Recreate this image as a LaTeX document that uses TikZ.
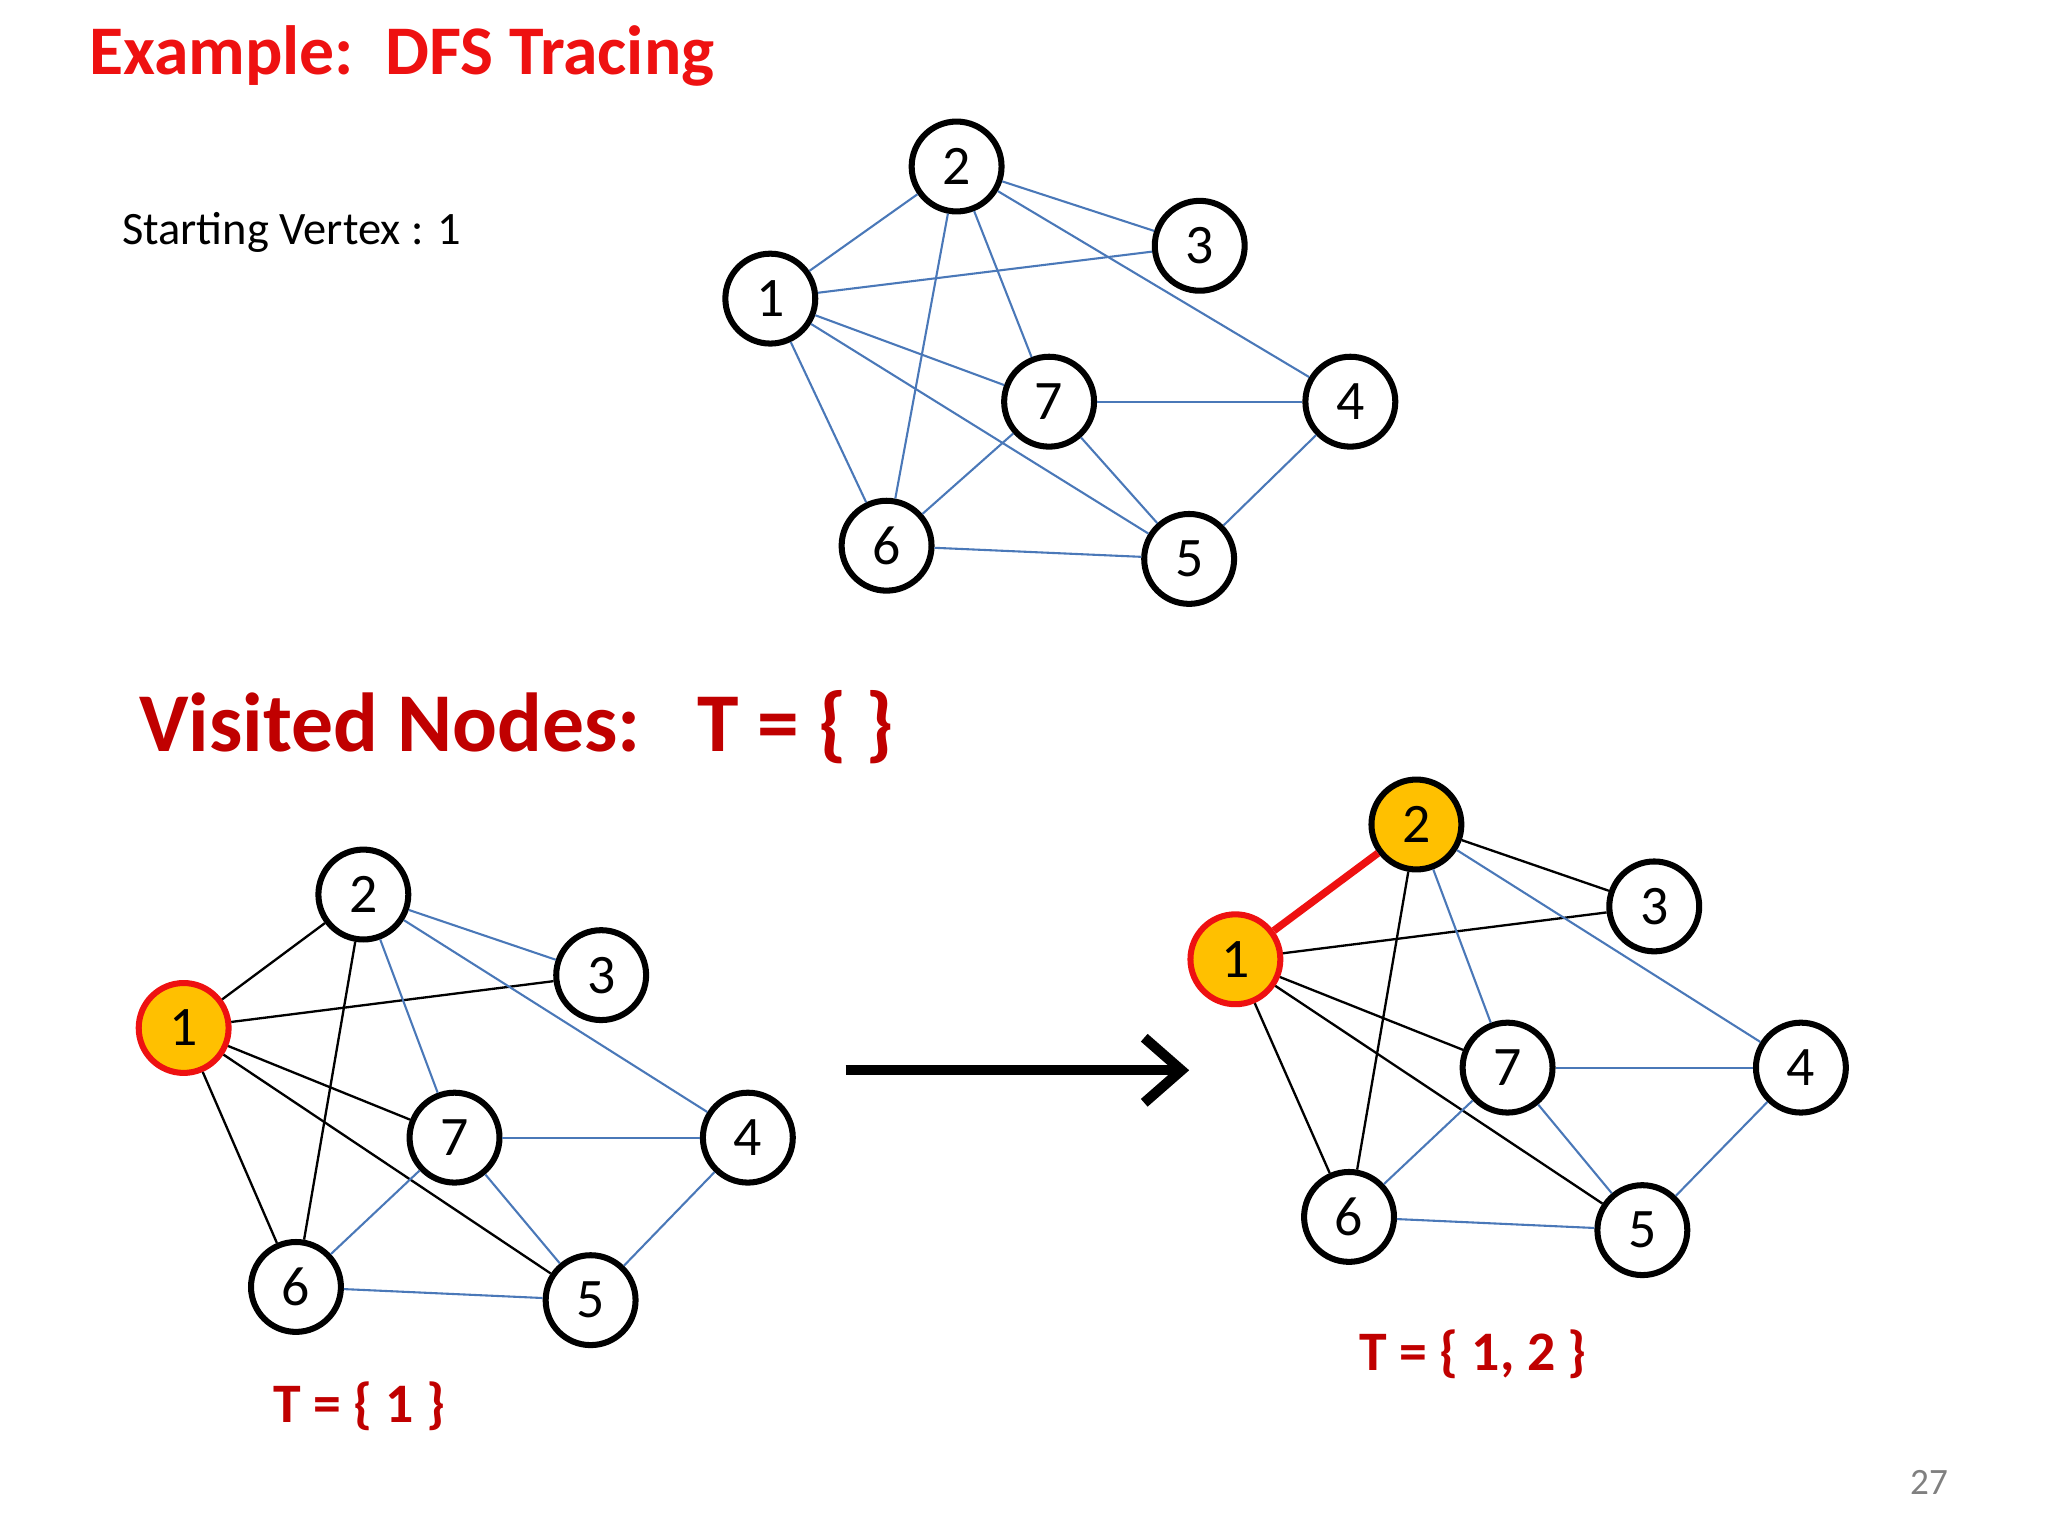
\documentclass[tikz,border=0pt]{standalone}
\usepackage{fontspec}
\setmainfont{Carlito}
\usetikzlibrary{arrows.meta}
\definecolor{dred}{HTML}{C00000}
\definecolor{bred}{HTML}{EE1111}
\definecolor{eblue}{HTML}{4A78B8}
\definecolor{gold}{HTML}{FFC000}
\begin{document}
\begin{tikzpicture}[x=0.01cm,y=-0.01cm,
 v/.style={circle,draw=black,line width=1.3pt,minimum size=0.68cm,inner sep=0pt,font=\fontsize{12}{12}\selectfont,fill=white},
 vis/.style={v,fill=gold},
 be/.style={draw=eblue,line width=0.45pt},
 ke/.style={draw=black,line width=0.5pt}]
\useasboundingbox (0,0) rectangle (1550,1162.5);
\node[anchor=west,text=bred,font=\bfseries\fontsize{15}{15}\selectfont] (title) at (55,42) {Example:\ \ DFS Tracing};
\node[anchor=west,font=\fontsize{10}{10}\selectfont] (sv) at (80,176) {Starting Vertex : 1};
% top graph
\node[v] (a1) at (583,226) {1};
\node[v] (a2) at (724,126) {2};
\node[v] (a3) at (908,186) {3};
\node[v] (a4) at (1022,304) {4};
\node[v] (a5) at (900,423) {5};
\node[v] (a6) at (671,413) {6};
\node[v] (a7) at (794,304) {7};
\foreach \p/\q in {1/2,2/3,1/3,2/6,2/7,2/4,1/7,1/5,1/6,7/4,7/6,7/5,6/5,4/5}
 \path[be] (a\p) -- (a\q);
\node[anchor=west,text=dred,font=\bfseries\fontsize{18}{18}\selectfont] (vn) at (93,550) {Visited Nodes:\ \ \ T = \{ \}};
% bottom left
\node[v,fill=gold,draw=bred] (b1) at (139,778) {1};
\node[v] (b2) at (275,677) {2};
\node[v] (b3) at (455,738) {3};
\node[v] (b4) at (566,861) {4};
\node[v] (b5) at (447,984) {5};
\node[v] (b6) at (224,974) {6};
\node[v] (b7) at (344,861) {7};
\foreach \p/\q in {1/2,1/3,1/7,1/5,1/6,2/6} \path[ke] (b\p) -- (b\q);
\foreach \p/\q in {2/3,2/7,2/4,7/4,7/6,7/5,6/5,4/5} \path[be] (b\p) -- (b\q);
\node[text=dred,font=\bfseries\fontsize{12}{12}\selectfont] (t1) at (272,1064) {T = \{ 1 \}};
% arrow
\coordinate (as) at (640,810);
\coordinate (ae) at (900,810);
\draw[line width=2.2pt,-{Straight Barb[length=8pt,width=14pt]}] (as) -- (ae);
% bottom right
\node[v,fill=gold,draw=bred] (c1) at (935,726) {1};
\node[vis] (c2) at (1072,624) {2};
\node[v] (c3) at (1252,686) {3};
\node[v] (c4) at (1363,808) {4};
\node[v] (c5) at (1243,931) {5};
\node[v] (c6) at (1021,921) {6};
\node[v] (c7) at (1141,808) {7};
\path[draw=bred,line width=1.6pt] (c1) -- (c2);
\foreach \p/\q in {1/3,1/7,1/5,1/6,2/6,2/3} \path[ke] (c\p) -- (c\q);
\foreach \p/\q in {2/7,2/4,7/4,7/6,7/5,6/5,4/5} \path[be] (c\p) -- (c\q);
\node[text=dred,font=\bfseries\fontsize{12}{12}\selectfont] (t2) at (1115,1025) {T = \{ 1, 2 \}};
\node[text=gray,font=\fontsize{8}{8}\selectfont] (pg) at (1460,1122) {27};
\end{tikzpicture}
\end{document}
